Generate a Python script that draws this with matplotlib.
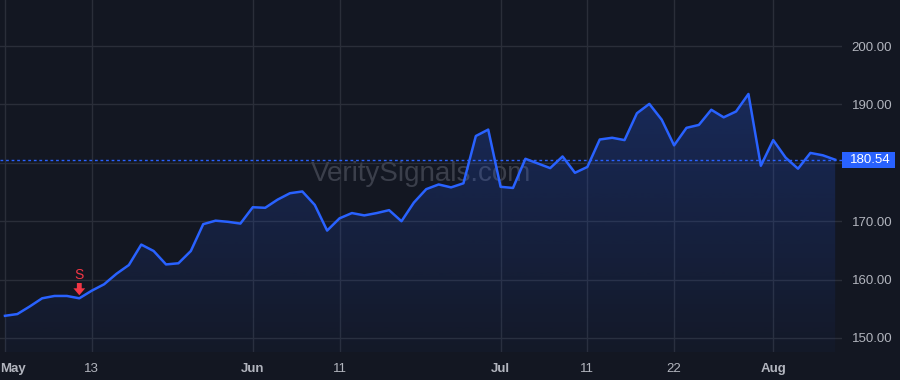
import numpy as np
import pandas as pd
import matplotlib
matplotlib.use("Agg")
import matplotlib.pyplot as plt
from matplotlib.patches import Rectangle
from matplotlib.transforms import blended_transform_factory, ScaledTranslation

# trading days, May 2 - Aug 8 2025 (US market holidays removed)
holidays = ["2025-05-26", "2025-06-19", "2025-07-04"]
dates = pd.bdate_range("2025-05-02", "2025-08-08")
dates = dates[~dates.isin(pd.to_datetime(holidays))]

closes = [
    153.8, 154.1, 155.4, 156.8, 157.2, 157.2, 156.8, 158.1, 159.2, 161.0,
    162.5, 166.0, 164.9, 162.6, 162.8, 164.9, 169.5, 170.1, 169.9, 169.6,
    172.4, 172.3, 173.7, 174.8, 175.1, 172.8, 168.4, 170.5, 171.4, 171.0,
    171.4, 171.9, 170.0, 173.2, 175.5, 176.3, 175.8, 176.5, 184.6, 185.7,
    175.9, 175.7, 180.7, 179.9, 179.1, 181.1, 178.3, 179.3, 184.0, 184.3,
    183.9, 188.5, 190.1, 187.4, 183.0, 186.0, 186.5, 189.1, 187.8, 188.8,
    191.8, 179.5, 183.9, 180.9, 179.0, 181.7, 181.3, 180.54,
]
last_price = closes[-1]

tick_dates = ["2025-05-02", "2025-05-13", "2025-06-02", "2025-06-11",
              "2025-07-01", "2025-07-11", "2025-07-22", "2025-08-01"]
tick_labels = ["May", "13", "Jun", "11", "Jul", "11", "22", "Aug"]
month_labels = {"May", "Jun", "Jul", "Aug"}

price_ticks = [150, 160, 170, 180, 190, 200]

signal_date = "2025-05-12"
signal_text = "S"

# colours
BG = "#131722"
GRID = "#2a2e39"
LINE = "#2962ff"
TXT = "#b2b5be"
RED = "#f23645"

plt.rcParams["font.family"] = ["Liberation Sans", "DejaVu Sans"]

fig = plt.figure(figsize=(9, 3.8), dpi=100, facecolor=BG)
ax = fig.add_axes([0, 28 / 380, 842 / 900, 352 / 380])
ax.set_facecolor(BG)

x = np.arange(len(dates))
y = np.array(closes)

ax.plot(x, y, color=LINE, lw=1.8, solid_joinstyle="round", zorder=4)

# gradient area under the line
ybot, ytop = 147.6, 207.9
poly = ax.fill_between(x, y, ybot - 5, color="none", lw=0)
ny = 256
alpha = np.linspace(0.03, 0.25, ny)[:, None]
grad = np.zeros((ny, 1, 4))
grad[..., 0] = 41 / 255
grad[..., 1] = 98 / 255
grad[..., 2] = 1.0
grad[..., 3] = alpha
im = ax.imshow(grad, extent=[x[0], x[-1], ybot, max(closes)], origin="lower",
               aspect="auto", zorder=2)
im.set_clip_path(poly.get_paths()[0], transform=ax.transData)

# last price line + label
ax.axhline(last_price, color=LINE, lw=1, ls=(0, (2, 2)), zorder=3)
tr = blended_transform_factory(ax.transAxes, ax.transData)
box_h = 8 / 5.84
ax.add_patch(Rectangle((1.0, last_price - box_h), 53 / 842, 2 * box_h,
                       transform=tr, fc=LINE, ec="none", clip_on=False, zorder=6))
ax.text(1.0 + 28 / 842, last_price, f"{last_price:.2f}", transform=tr,
        ha="center", va="center", color="white", fontsize=9.5, zorder=7)

# sell signal
si = list(dates).index(pd.Timestamp(signal_date))
ax.annotate("", xy=(x[si], y[si]), xytext=(0, 11), textcoords="offset points",
            arrowprops=dict(arrowstyle="simple,head_length=0.5,head_width=0.85,tail_width=0.35",
                            mutation_scale=10, fc=RED, ec="none", shrinkA=0, shrinkB=2.2),
            zorder=6)
ax.annotate(signal_text, xy=(x[si], y[si]), xytext=(0, 17), textcoords="offset points",
            ha="center", va="center", color=RED, fontsize=10, zorder=6)

# watermark
ax.text(0.5, 0.507, "VeritySignals.com", transform=ax.transAxes, ha="center",
        va="center", fontsize=20, color="#3b3f4b", zorder=1)

# axes
ax.set_xlim(-0.4, 67.55)
ax.set_ylim(ybot, ytop)
for s in ax.spines.values():
    s.set_visible(False)

tick_pos = [list(dates).index(pd.Timestamp(d)) for d in tick_dates]
ax.set_xticks(tick_pos)
ax.set_xticklabels(tick_labels)
ax.set_yticks(price_ticks)
ax.set_yticklabels(["" if v == 180 else f"{v:.2f}" for v in price_ticks])
ax.yaxis.tick_right()
ax.tick_params(axis="both", length=0, colors=TXT, labelsize=9.5)
ax.tick_params(axis="x", pad=8)
ax.tick_params(axis="y", pad=7)
for lab in ax.get_xticklabels():
    if lab.get_text() in month_labels:
        lab.set_fontweight("bold")
first = ax.get_xticklabels()[0]
first.set_ha("left")
first.set_transform(first.get_transform() + ScaledTranslation(-5 / 100, 0, fig.dpi_scale_trans))

ax.grid(True, color=GRID, lw=1)
ax.set_axisbelow(True)

fig.savefig("out.png", dpi=100, facecolor=BG)
